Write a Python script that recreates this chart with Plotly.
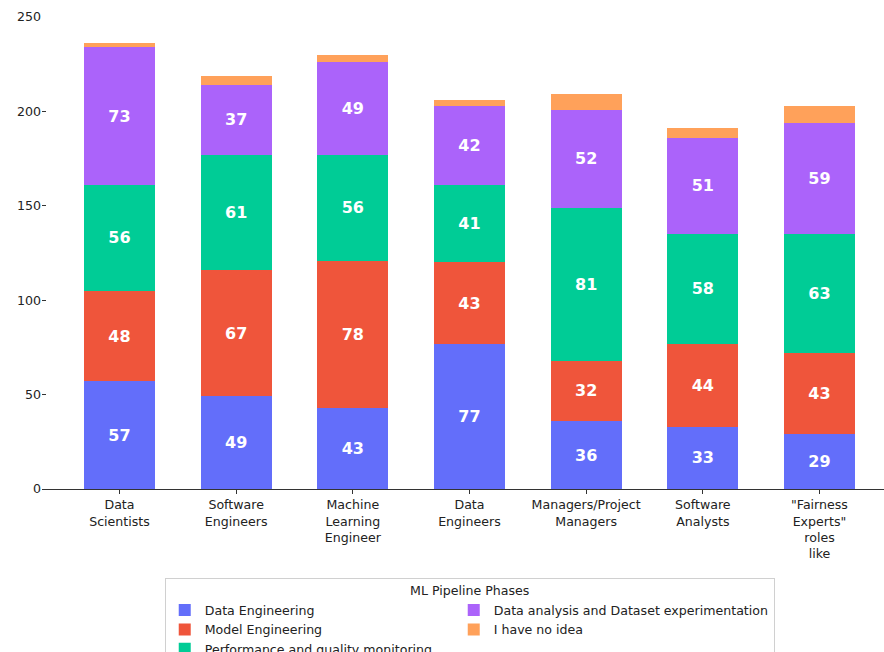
import plotly.graph_objects as go

categories = ["Data<br>Scientists", "Software<br>Engineers", "Machine<br>Learning<br>Engineer",
              "Data<br>Engineers", "Managers/Project<br>Managers", "Software<br>Analysts",
              "\"Fairness<br>Experts\"<br>roles<br>like"]

data_engineering = [57, 49, 43, 77, 36, 33, 29]
model_engineering = [48, 67, 78, 43, 32, 44, 43]
performance_monitoring = [56, 61, 56, 41, 81, 58, 63]
data_analysis = [73, 37, 49, 42, 52, 51, 59]
no_idea = [2, 5, 4, 3, 8, 5, 9]

series = [
    ("Data Engineering", data_engineering, "#636EFA", True, "a", 244),
    ("Model Engineering", model_engineering, "#EF553B", True, "a", 244),
    ("Performance and quality monitoring", performance_monitoring, "#00CC96", True, "a", 244),
    ("Data analysis and Dataset experimentation", data_analysis, "#AB63FA", True, "b", None),
    ("I have no idea", no_idea, "#FFA15A", False, "b", None),
]

FS = 12.6

fig = go.Figure()
for name, vals, color, show_text, group, lw in series:
    fig.add_trace(go.Bar(
        x=categories, y=vals, name=name, marker=dict(color=color, line=dict(width=0)),
        text=vals if show_text else None,
        textposition="inside" if show_text else "none",
        insidetextanchor="middle",
        textangle=0,
        textfont=dict(family="DejaVu Sans", size=16, color="white", weight="bold"),
        legendgroup=group,
        legendwidth=lw,
    ))

fig.update_layout(
    barmode="stack",
    bargap=0.39,
    width=884, height=652,
    margin=dict(l=42, r=0, t=17, b=163),
    plot_bgcolor="white", paper_bgcolor="white",
    font=dict(family="DejaVu Sans", size=FS, color="#222"),
    xaxis=dict(range=[-0.664, 6.553], showline=True, linecolor="#333", linewidth=1,
               ticks="outside", ticklen=4, tickcolor="#333", showgrid=False,
               tickfont=dict(size=FS), automargin=False),
    yaxis=dict(range=[0, 250], tickvals=[0, 50, 100, 150, 200, 250], showgrid=False,
               showline=False, zeroline=False, ticks="inside", ticklen=4, tickcolor="#333",
               tickfont=dict(size=FS), automargin=False),
    legend=dict(
        orientation="h", xref="paper", x=0.508, xanchor="center",
        yref="container", y=1 - 578 / 652, yanchor="top",
        title=dict(text="ML Pipeline Phases", side="top center", font=dict(size=FS)),
        bordercolor="#d0d0d0", borderwidth=1,
        font=dict(size=FS), traceorder="grouped", tracegroupgap=0,
    ),
    showlegend=True,
)

fig.write_html(
    "out.html",
    config={"displayModeBar": False},
    post_script="document.body.style.margin='0';document.body.style.overflow='hidden';",
)
